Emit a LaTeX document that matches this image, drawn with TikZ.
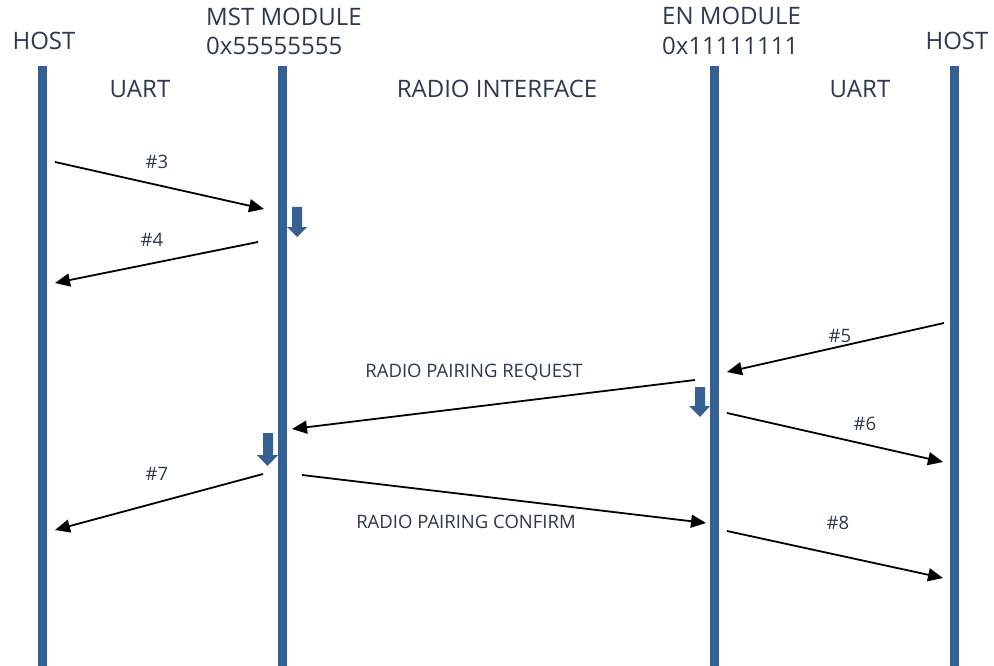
\documentclass[tikz,border=0pt]{standalone}
\usepackage{fontspec}
\setmainfont{Open Sans}
\usetikzlibrary{arrows.meta}
\definecolor{lifeblue}{HTML}{376092}
\definecolor{txtcol}{HTML}{2B3A4E}
\tikzset{
  lifeline/.style={draw=lifeblue,line width=9pt},
  msg/.style={draw=black,line width=1.8pt,-{Triangle[length=15pt,width=13pt]}},
  hdr/.style={text=txtcol,font=\fontsize{24}{28}\selectfont,inner sep=0pt,anchor=base},
  hdrl/.style={hdr,anchor=base west},
  lbl/.style={text=txtcol,font=\fontsize{18.5}{22}\selectfont,inner sep=0pt,anchor=base},
  blockarrow/.style={fill=lifeblue,draw=none}
}
\begin{document}
\begin{tikzpicture}[x=1pt,y=-1pt]
\useasboundingbox[fill=white] (0,0) rectangle (994,666);
% lifelines
\coordinate (h1t) at (42.5,66); \coordinate (h1b) at (42.5,666);
\coordinate (mt) at (282.5,66); \coordinate (mb) at (282.5,666);
\coordinate (et) at (714.5,66); \coordinate (eb) at (714.5,666);
\coordinate (h2t) at (954.5,66); \coordinate (h2b) at (954.5,666);
\draw[lifeline] (h1t) -- (h1b);
\draw[lifeline] (mt) -- (mb);
\draw[lifeline] (et) -- (eb);
\draw[lifeline] (h2t) -- (h2b);
% headers
\node[hdr] (hostL) at (44,50) {HOST};
\node[hdrl] (mst1) at (206,26) {MST MODULE};
\node[hdrl] (mst2) at (206,55) {0x55555555};
\node[hdrl] (en1) at (662,25) {EN MODULE};
\node[hdrl] (en2) at (662,55) {0x11111111};
\node[hdr] (hostR) at (957,50) {HOST};
\node[hdr] (uartL) at (140,98) {UART};
\node[hdr] (radio) at (497,98) {RADIO INTERFACE};
\node[hdr] (uartR) at (860,98) {UART};
% message endpoints
\coordinate (a3s) at (55,162);  \coordinate (a3e) at (264,209);
\coordinate (a4s) at (258,242); \coordinate (a4e) at (55,283);
\coordinate (a5s) at (944,323); \coordinate (a5e) at (727,372);
\coordinate (rqs) at (695,380); \coordinate (rqe) at (292,429);
\coordinate (a6s) at (727,413); \coordinate (a6e) at (943,462);
\coordinate (a7s) at (263,474); \coordinate (a7e) at (55,530);
\coordinate (cfs) at (302,475); \coordinate (cfe) at (706,523);
\coordinate (a8s) at (727,531); \coordinate (a8e) at (943,578);
\draw[msg] (a3s) -- (a3e);
\draw[msg] (a4s) -- (a4e);
\draw[msg] (a5s) -- (a5e);
\draw[msg] (rqs) -- (rqe);
\draw[msg] (a6s) -- (a6e);
\draw[msg] (a7s) -- (a7e);
\draw[msg] (cfs) -- (cfe);
\draw[msg] (a8s) -- (a8e);
% labels
\node[lbl] (l3) at (157,168) {\#3};
\node[lbl] (l4) at (152,247) {\#4};
\node[lbl] (l5) at (840,342) {\#5};
\node[lbl] (lrq) at (474,377.5) {RADIO PAIRING REQUEST};
\node[lbl] (l6) at (865,430) {\#6};
\node[lbl] (l7) at (157,480.5) {\#7};
\node[lbl] (lcf) at (466,528) {RADIO PAIRING CONFIRM};
\node[lbl] (l8) at (838,529) {\#8};
% block arrows
\fill[blockarrow] (292,207) -- (302,207) -- (302,227) -- (307,227) -- (297,237) -- (287,227) -- (292,227) -- cycle;
\fill[blockarrow] (695,387) -- (705,387) -- (705,406) -- (710,406) -- (700,417) -- (689,406) -- (695,406) -- cycle;
\fill[blockarrow] (263,433) -- (273,433) -- (273,455) -- (278,455) -- (267.5,466) -- (257,455) -- (263,455) -- cycle;
\end{tikzpicture}
\end{document}
